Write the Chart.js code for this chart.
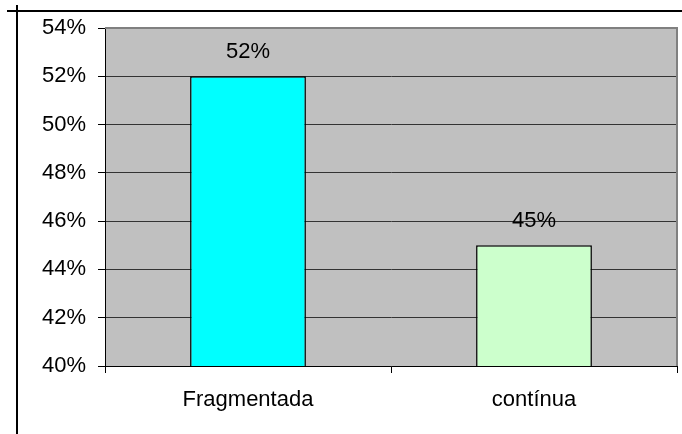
<!DOCTYPE html>
<html>
<head>
<meta charset="utf-8">
<script src="https://cdn.jsdelivr.net/npm/chart.js@4/dist/chart.umd.min.js"></script>
<style>
  html, body { margin: 0; padding: 0; background: #ffffff; }
  #wrap { width: 682px; height: 434px; position: relative; }
</style>
</head>
<body>
<div id="wrap"><canvas id="c" width="682" height="434"></canvas></div>
<script>
// Share of each type (percent)
const categories = ['Fragmentada', 'contínua'];
const values = [52, 45];
const barColors = ['#00ffff', '#ccffcc'];
const yMin = 40;
const yMax = 54;
const yStep = 2;

const FONT = '"Liberation Sans", Arial, sans-serif';
const FONT_SIZE = 22;

// Page frame, plot background and value labels
const decorations = {
  id: 'decorations',
  beforeDraw(chart) {
    const { ctx, chartArea: a } = chart;
    ctx.save();
    ctx.fillStyle = '#c0c0c0';
    ctx.fillRect(a.left, a.top, a.right - a.left, a.bottom - a.top);
    ctx.restore();
  },
  afterDatasetsDraw(chart) {
    const { ctx, chartArea: a } = chart;
    ctx.save();
    // plot border (top and right)
    ctx.strokeStyle = '#808080';
    ctx.lineWidth = 2;
    ctx.beginPath();
    ctx.moveTo(a.left, a.top);
    ctx.lineTo(a.right, a.top);
    ctx.lineTo(a.right, a.bottom);
    ctx.stroke();
    // outer frame lines
    ctx.strokeStyle = '#000000';
    ctx.lineWidth = 2;
    ctx.beginPath();
    ctx.moveTo(7, 11);
    ctx.lineTo(682, 11);
    ctx.moveTo(17, 5);
    ctx.lineTo(17, 434);
    ctx.stroke();
    // value labels
    const meta = chart.getDatasetMeta(0);
    ctx.fillStyle = '#000000';
    ctx.font = FONT_SIZE + 'px ' + FONT;
    ctx.textAlign = 'center';
    ctx.textBaseline = 'middle';
    meta.data.forEach((bar, i) => {
      ctx.fillText(values[i] + '%', bar.x, bar.y - 24);
    });
    ctx.restore();
  }
};

new Chart(document.getElementById('c'), {
  type: 'bar',
  data: {
    labels: categories,
    datasets: [{
      data: values,
      backgroundColor: barColors,
      borderColor: '#000000',
      borderWidth: 1.5,
      borderSkipped: false,
      barPercentage: 0.405,
      categoryPercentage: 1.0
    }]
  },
  options: {
    responsive: false,
    animation: false,
    devicePixelRatio: 1,
    layout: { padding: { left: 0, top: 28, right: 5, bottom: 0 } },
    plugins: {
      legend: { display: false },
      tooltip: { enabled: false }
    },
    scales: {
      x: {
        offset: true,
        border: { display: true, color: '#000000', width: 1 },
        grid: {
          offset: true,
          drawOnChartArea: false,
          drawTicks: true,
          tickLength: 7,
          color: '#000000'
        },
        ticks: {
          color: '#000000',
          font: { family: FONT, size: FONT_SIZE },
          padding: 14,
          maxRotation: 0
        },
        afterFit(scale) { scale.height = 68; }
      },
      y: {
        min: yMin,
        max: yMax,
        border: { display: true, color: '#000000', width: 1 },
        grid: {
          color: '#333333',
          lineWidth: 1,
          drawTicks: true,
          tickLength: 7,
          tickColor: '#000000'
        },
        ticks: {
          stepSize: yStep,
          color: '#000000',
          font: { family: FONT, size: FONT_SIZE },
          padding: 12,
          callback: v => v + '%'
        },
        afterFit(scale) { scale.width = 105; }
      }
    }
  },
  plugins: [decorations]
});
</script>
</body>
</html>
